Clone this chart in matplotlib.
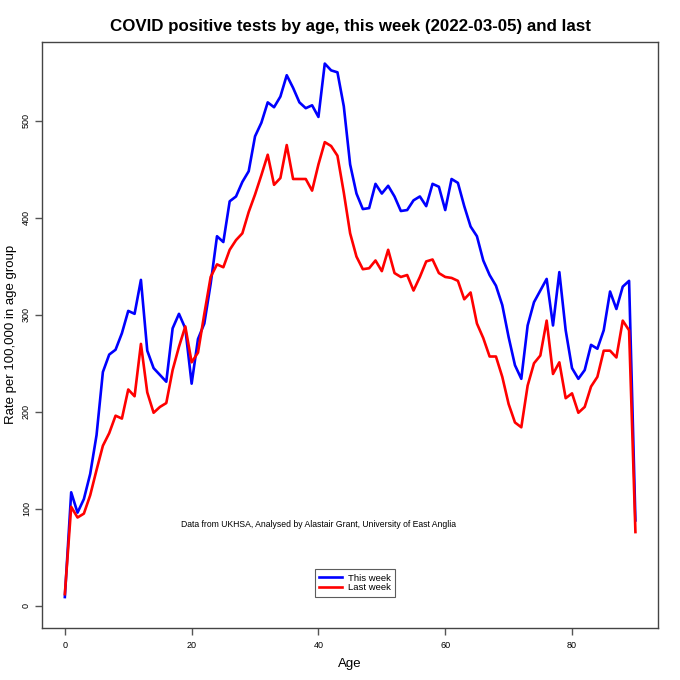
import matplotlib
matplotlib.use('Agg')
import matplotlib.pyplot as plt
import numpy as np

plt.rcParams['font.family'] = ['Liberation Sans', 'DejaVu Sans']

ages = list(range(0, 91))

this_week = [9, 117, 96, 110, 136, 176, 241, 259, 264, 281, 304, 301, 336, 263, 245, 238, 231,
             286, 301, 286, 229, 275, 291, 332, 381, 375, 417, 422, 437, 448, 484, 498, 519,
             514, 525, 547, 534, 519, 513, 516, 504, 559, 552, 550, 515, 455, 425, 409, 410,
             435, 425, 433, 422, 407, 408, 418, 422, 412, 435, 432, 408, 440, 436, 412, 391,
             381, 356, 341, 330, 310, 277, 248, 234, 289, 313, 325, 337, 289, 344, 284, 245,
             234, 243, 269, 265, 284, 324, 306, 329, 335, 88]

last_week = [12, 102, 91, 95, 114, 140, 165, 178, 196, 193, 223, 216, 270, 220, 199, 205, 209,
             243, 267, 288, 251, 261, 301, 339, 352, 349, 367, 377, 384, 406, 424, 444, 465,
             434, 441, 475, 440, 440, 440, 428, 455, 478, 474, 464, 426, 384, 360, 347, 348,
             356, 345, 367, 343, 339, 341, 325, 339, 355, 357, 343, 339, 338, 335, 316, 323,
             291, 276, 257, 257, 236, 208, 189, 184, 227, 250, 258, 294, 239, 251, 214, 219,
             199, 205, 226, 236, 263, 263, 256, 294, 284, 76]

title = 'COVID positive tests by age, this week (2022-03-05) and last'
note = 'Data from UKHSA, Analysed by Alastair Grant, University of East Anglia'

fig = plt.figure(figsize=(6.8, 6.8), dpi=100)
ax = fig.add_axes([0.0618, 0.0772, 0.9062, 0.8614])

ax.plot(ages, this_week, color='#0000FF', lw=1.9, label='This week')
ax.plot(ages, last_week, color='#FF0000', lw=1.9, label='Last week')

ax.set_xlim(-3.6, 93.6)
ax.set_ylim(-22.4, 581.5)
ax.set_xticks([0, 20, 40, 60, 80])
ax.set_yticks([0, 100, 200, 300, 400, 500])
ax.tick_params(axis='both', labelsize=6.5, length=5, width=1, color='#555555')
ax.tick_params(axis='x', pad=5)
ax.tick_params(axis='y', pad=3)
plt.setp(ax.get_yticklabels(), rotation=90, va='center')
for s in ax.spines.values():
    s.set_color('#444444')
    s.set_linewidth(1)

ax.set_xlabel('Age', fontsize=9.5)
ax.xaxis.set_label_coords(0.5, -0.052)
ax.set_ylabel('Rate per 100,000 in age group', fontsize=9.5)
ax.yaxis.set_label_coords(-0.04, 0.5)
fig.suptitle(title, x=0.515, fontsize=12.2, fontweight='bold', y=0.972)

ax.text(40, 84, note, fontsize=6.2, ha='center', va='center')

leg = ax.legend(loc='center', bbox_to_anchor=(0.508, 0.076), fontsize=6.8, frameon=True,
                fancybox=False, edgecolor='#333333', handlelength=2.4, handletextpad=0.6,
                borderpad=0.45, labelspacing=0.1, borderaxespad=0)
leg.get_frame().set_linewidth(0.8)

fig.savefig('out.png', dpi=100)
